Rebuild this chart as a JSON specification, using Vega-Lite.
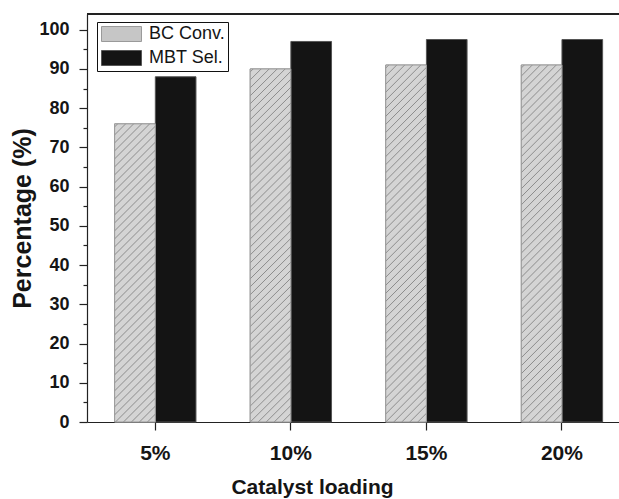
{
  "$schema": "https://vega.github.io/schema/vega-lite/v6.json",
  "width": 532,
  "height": 408,
  "autosize": {"type": "none"},
  "padding": {"left": 87, "top": 14, "right": 0, "bottom": 77},
  "background": "white",
  "config": {
    "view": {"stroke": null},
    "font": "Liberation Sans",
    "axis": {
      "domainColor": "#222222",
      "tickColor": "#222222",
      "labelColor": "#151515",
      "titleColor": "#151515",
      "labelFont": "Liberation Sans",
      "titleFont": "Liberation Sans",
      "grid": false,
      "domainWidth": 1.2,
      "tickWidth": 1.2
    }
  },
  "data": {
    "values": [
      {"loading": "5%", "series": "BC Conv.", "value": 76},
      {"loading": "5%", "series": "MBT Sel.", "value": 88},
      {"loading": "10%", "series": "BC Conv.", "value": 90},
      {"loading": "10%", "series": "MBT Sel.", "value": 97},
      {"loading": "15%", "series": "BC Conv.", "value": 91},
      {"loading": "15%", "series": "MBT Sel.", "value": 97.5},
      {"loading": "20%", "series": "BC Conv.", "value": 91},
      {"loading": "20%", "series": "MBT Sel.", "value": 97.5}
    ]
  },
  "layer": [
    {
      "mark": {"type": "bar", "strokeWidth": 1},
      "encoding": {
        "x": {
          "field": "loading",
          "type": "nominal",
          "sort": ["5%", "10%", "15%", "20%"],
          "title": "Catalyst loading",
          "scale": {"paddingInner": 0.4, "paddingOuter": 0.1624, "align": 0.628},
          "axis": {
            "labelAngle": 0,
            "labelFontSize": 21,
            "labelFontWeight": "bold",
            "titleFontSize": 21,
            "titleFontWeight": "bold",
            "titleX": 225,
            "tickSize": 8,
            "labelPadding": 12,
            "titlePadding": 13
          }
        },
        "xOffset": {
          "field": "series",
          "type": "nominal",
          "sort": ["BC Conv.", "MBT Sel."],
          "scale": {"paddingInner": 0, "paddingOuter": 0}
        },
        "y": {
          "field": "value",
          "type": "quantitative",
          "scale": {"domain": [0, 104], "nice": false, "zero": true},
          "axis": {
            "title": "Percentage (%)",
            "values": [0, 10, 20, 30, 40, 50, 60, 70, 80, 90, 100],
            "labelFontSize": 18,
            "labelFontWeight": "bold",
            "titleFontSize": 25,
            "titleFontWeight": "bold",
            "tickSize": 8,
            "labelPadding": 10,
            "titlePadding": 3
          }
        },
        "fill": {
          "field": "series",
          "type": "nominal",
          "scale": {"domain": ["BC Conv.", "MBT Sel."], "range": ["#c6c6c6", "#141414"]},
          "legend": {
            "title": null,
            "orient": "none",
            "legendX": 10,
            "legendY": 8,
            "strokeColor": "#111111",
            "fillColor": "white",
            "padding": 3,
            "symbolType": "M-1,-1H4.333V1H-1Z",
            "symbolSize": 225,
            "symbolStrokeWidth": 1,
            "labelFontSize": 18,
            "labelFont": "Liberation Sans",
            "labelColor": "#151515",
            "labelOffset": 31,
            "rowPadding": 4
          }
        },
        "stroke": {
          "field": "series",
          "type": "nominal",
          "scale": {"domain": ["BC Conv.", "MBT Sel."], "range": ["#9a9a9a", "#555555"]},
          "legend": null
        }
      }
    },
    {
      "transform": [{"filter": "datum.series === 'BC Conv.' && datum.loading === '5%'"}],
      "mark": {
        "type": "bar",
        "stroke": "#9a9a9a",
        "strokeWidth": 1,
        "fill": {
          "gradient": "linear", "x1": 0, "y1": 0, "x2": 0.1796, "y2": 1.3169,
          "stops": [
            {"offset": 0.005, "color": "#d4d4d4"}, {"offset": 0.0075, "color": "#8c8c8c"}, {"offset": 0.01, "color": "#d4d4d4"},
            {"offset": 0.025, "color": "#d4d4d4"}, {"offset": 0.0275, "color": "#8c8c8c"}, {"offset": 0.03, "color": "#d4d4d4"},
            {"offset": 0.045, "color": "#d4d4d4"}, {"offset": 0.0475, "color": "#8c8c8c"}, {"offset": 0.05, "color": "#d4d4d4"},
            {"offset": 0.065, "color": "#d4d4d4"}, {"offset": 0.0675, "color": "#8c8c8c"}, {"offset": 0.07, "color": "#d4d4d4"},
            {"offset": 0.085, "color": "#d4d4d4"}, {"offset": 0.0875, "color": "#8c8c8c"}, {"offset": 0.09, "color": "#d4d4d4"},
            {"offset": 0.105, "color": "#d4d4d4"}, {"offset": 0.1075, "color": "#8c8c8c"}, {"offset": 0.11, "color": "#d4d4d4"},
            {"offset": 0.125, "color": "#d4d4d4"}, {"offset": 0.1275, "color": "#8c8c8c"}, {"offset": 0.13, "color": "#d4d4d4"},
            {"offset": 0.145, "color": "#d4d4d4"}, {"offset": 0.1475, "color": "#8c8c8c"}, {"offset": 0.15, "color": "#d4d4d4"},
            {"offset": 0.165, "color": "#d4d4d4"}, {"offset": 0.1675, "color": "#8c8c8c"}, {"offset": 0.17, "color": "#d4d4d4"},
            {"offset": 0.185, "color": "#d4d4d4"}, {"offset": 0.1875, "color": "#8c8c8c"}, {"offset": 0.19, "color": "#d4d4d4"},
            {"offset": 0.205, "color": "#d4d4d4"}, {"offset": 0.2075, "color": "#8c8c8c"}, {"offset": 0.21, "color": "#d4d4d4"},
            {"offset": 0.225, "color": "#d4d4d4"}, {"offset": 0.2275, "color": "#8c8c8c"}, {"offset": 0.23, "color": "#d4d4d4"},
            {"offset": 0.245, "color": "#d4d4d4"}, {"offset": 0.2475, "color": "#8c8c8c"}, {"offset": 0.25, "color": "#d4d4d4"},
            {"offset": 0.265, "color": "#d4d4d4"}, {"offset": 0.2675, "color": "#8c8c8c"}, {"offset": 0.27, "color": "#d4d4d4"},
            {"offset": 0.285, "color": "#d4d4d4"}, {"offset": 0.2875, "color": "#8c8c8c"}, {"offset": 0.29, "color": "#d4d4d4"},
            {"offset": 0.305, "color": "#d4d4d4"}, {"offset": 0.3075, "color": "#8c8c8c"}, {"offset": 0.31, "color": "#d4d4d4"},
            {"offset": 0.325, "color": "#d4d4d4"}, {"offset": 0.3275, "color": "#8c8c8c"}, {"offset": 0.33, "color": "#d4d4d4"},
            {"offset": 0.345, "color": "#d4d4d4"}, {"offset": 0.3475, "color": "#8c8c8c"}, {"offset": 0.35, "color": "#d4d4d4"},
            {"offset": 0.365, "color": "#d4d4d4"}, {"offset": 0.3675, "color": "#8c8c8c"}, {"offset": 0.37, "color": "#d4d4d4"},
            {"offset": 0.385, "color": "#d4d4d4"}, {"offset": 0.3875, "color": "#8c8c8c"}, {"offset": 0.39, "color": "#d4d4d4"},
            {"offset": 0.405, "color": "#d4d4d4"}, {"offset": 0.4075, "color": "#8c8c8c"}, {"offset": 0.41, "color": "#d4d4d4"},
            {"offset": 0.425, "color": "#d4d4d4"}, {"offset": 0.4275, "color": "#8c8c8c"}, {"offset": 0.43, "color": "#d4d4d4"},
            {"offset": 0.445, "color": "#d4d4d4"}, {"offset": 0.4475, "color": "#8c8c8c"}, {"offset": 0.45, "color": "#d4d4d4"},
            {"offset": 0.465, "color": "#d4d4d4"}, {"offset": 0.4675, "color": "#8c8c8c"}, {"offset": 0.47, "color": "#d4d4d4"},
            {"offset": 0.485, "color": "#d4d4d4"}, {"offset": 0.4875, "color": "#8c8c8c"}, {"offset": 0.49, "color": "#d4d4d4"},
            {"offset": 0.505, "color": "#d4d4d4"}, {"offset": 0.5075, "color": "#8c8c8c"}, {"offset": 0.51, "color": "#d4d4d4"},
            {"offset": 0.525, "color": "#d4d4d4"}, {"offset": 0.5275, "color": "#8c8c8c"}, {"offset": 0.53, "color": "#d4d4d4"},
            {"offset": 0.545, "color": "#d4d4d4"}, {"offset": 0.5475, "color": "#8c8c8c"}, {"offset": 0.55, "color": "#d4d4d4"},
            {"offset": 0.565, "color": "#d4d4d4"}, {"offset": 0.5675, "color": "#8c8c8c"}, {"offset": 0.57, "color": "#d4d4d4"},
            {"offset": 0.585, "color": "#d4d4d4"}, {"offset": 0.5875, "color": "#8c8c8c"}, {"offset": 0.59, "color": "#d4d4d4"},
            {"offset": 0.605, "color": "#d4d4d4"}, {"offset": 0.6075, "color": "#8c8c8c"}, {"offset": 0.61, "color": "#d4d4d4"},
            {"offset": 0.625, "color": "#d4d4d4"}, {"offset": 0.6275, "color": "#8c8c8c"}, {"offset": 0.63, "color": "#d4d4d4"},
            {"offset": 0.645, "color": "#d4d4d4"}, {"offset": 0.6475, "color": "#8c8c8c"}, {"offset": 0.65, "color": "#d4d4d4"},
            {"offset": 0.665, "color": "#d4d4d4"}, {"offset": 0.6675, "color": "#8c8c8c"}, {"offset": 0.67, "color": "#d4d4d4"},
            {"offset": 0.685, "color": "#d4d4d4"}, {"offset": 0.6875, "color": "#8c8c8c"}, {"offset": 0.69, "color": "#d4d4d4"},
            {"offset": 0.705, "color": "#d4d4d4"}, {"offset": 0.7075, "color": "#8c8c8c"}, {"offset": 0.71, "color": "#d4d4d4"},
            {"offset": 0.725, "color": "#d4d4d4"}, {"offset": 0.7275, "color": "#8c8c8c"}, {"offset": 0.73, "color": "#d4d4d4"},
            {"offset": 0.745, "color": "#d4d4d4"}, {"offset": 0.7475, "color": "#8c8c8c"}, {"offset": 0.75, "color": "#d4d4d4"},
            {"offset": 0.765, "color": "#d4d4d4"}, {"offset": 0.7675, "color": "#8c8c8c"}, {"offset": 0.77, "color": "#d4d4d4"},
            {"offset": 0.785, "color": "#d4d4d4"}, {"offset": 0.7875, "color": "#8c8c8c"}, {"offset": 0.79, "color": "#d4d4d4"},
            {"offset": 0.805, "color": "#d4d4d4"}, {"offset": 0.8075, "color": "#8c8c8c"}, {"offset": 0.81, "color": "#d4d4d4"},
            {"offset": 0.825, "color": "#d4d4d4"}, {"offset": 0.8275, "color": "#8c8c8c"}, {"offset": 0.83, "color": "#d4d4d4"},
            {"offset": 0.845, "color": "#d4d4d4"}, {"offset": 0.8475, "color": "#8c8c8c"}, {"offset": 0.85, "color": "#d4d4d4"}
          ]
        }
      },
      "encoding": {
        "x": {"field": "loading", "type": "nominal", "sort": ["5%", "10%", "15%", "20%"], "title": "Catalyst loading"},
        "xOffset": {"field": "series", "type": "nominal", "sort": ["BC Conv.", "MBT Sel."]},
        "y": {"field": "value", "type": "quantitative", "scale": {"domain": [0, 104], "nice": false}, "axis": null}
      }
    },
    {
      "transform": [{"filter": "datum.series === 'BC Conv.' && datum.loading !== '5%'"}],
      "mark": {
        "type": "bar",
        "stroke": "#9a9a9a",
        "strokeWidth": 1,
        "fill": {
          "gradient": "linear", "x1": 0, "y1": 0, "x2": 0.1274, "y2": 1.1122,
          "stops": [
            {"offset": 0.005, "color": "#d4d4d4"}, {"offset": 0.0075, "color": "#8c8c8c"}, {"offset": 0.01, "color": "#d4d4d4"},
            {"offset": 0.025, "color": "#d4d4d4"}, {"offset": 0.0275, "color": "#8c8c8c"}, {"offset": 0.03, "color": "#d4d4d4"},
            {"offset": 0.045, "color": "#d4d4d4"}, {"offset": 0.0475, "color": "#8c8c8c"}, {"offset": 0.05, "color": "#d4d4d4"},
            {"offset": 0.065, "color": "#d4d4d4"}, {"offset": 0.0675, "color": "#8c8c8c"}, {"offset": 0.07, "color": "#d4d4d4"},
            {"offset": 0.085, "color": "#d4d4d4"}, {"offset": 0.0875, "color": "#8c8c8c"}, {"offset": 0.09, "color": "#d4d4d4"},
            {"offset": 0.105, "color": "#d4d4d4"}, {"offset": 0.1075, "color": "#8c8c8c"}, {"offset": 0.11, "color": "#d4d4d4"},
            {"offset": 0.125, "color": "#d4d4d4"}, {"offset": 0.1275, "color": "#8c8c8c"}, {"offset": 0.13, "color": "#d4d4d4"},
            {"offset": 0.145, "color": "#d4d4d4"}, {"offset": 0.1475, "color": "#8c8c8c"}, {"offset": 0.15, "color": "#d4d4d4"},
            {"offset": 0.165, "color": "#d4d4d4"}, {"offset": 0.1675, "color": "#8c8c8c"}, {"offset": 0.17, "color": "#d4d4d4"},
            {"offset": 0.185, "color": "#d4d4d4"}, {"offset": 0.1875, "color": "#8c8c8c"}, {"offset": 0.19, "color": "#d4d4d4"},
            {"offset": 0.205, "color": "#d4d4d4"}, {"offset": 0.2075, "color": "#8c8c8c"}, {"offset": 0.21, "color": "#d4d4d4"},
            {"offset": 0.225, "color": "#d4d4d4"}, {"offset": 0.2275, "color": "#8c8c8c"}, {"offset": 0.23, "color": "#d4d4d4"},
            {"offset": 0.245, "color": "#d4d4d4"}, {"offset": 0.2475, "color": "#8c8c8c"}, {"offset": 0.25, "color": "#d4d4d4"},
            {"offset": 0.265, "color": "#d4d4d4"}, {"offset": 0.2675, "color": "#8c8c8c"}, {"offset": 0.27, "color": "#d4d4d4"},
            {"offset": 0.285, "color": "#d4d4d4"}, {"offset": 0.2875, "color": "#8c8c8c"}, {"offset": 0.29, "color": "#d4d4d4"},
            {"offset": 0.305, "color": "#d4d4d4"}, {"offset": 0.3075, "color": "#8c8c8c"}, {"offset": 0.31, "color": "#d4d4d4"},
            {"offset": 0.325, "color": "#d4d4d4"}, {"offset": 0.3275, "color": "#8c8c8c"}, {"offset": 0.33, "color": "#d4d4d4"},
            {"offset": 0.345, "color": "#d4d4d4"}, {"offset": 0.3475, "color": "#8c8c8c"}, {"offset": 0.35, "color": "#d4d4d4"},
            {"offset": 0.365, "color": "#d4d4d4"}, {"offset": 0.3675, "color": "#8c8c8c"}, {"offset": 0.37, "color": "#d4d4d4"},
            {"offset": 0.385, "color": "#d4d4d4"}, {"offset": 0.3875, "color": "#8c8c8c"}, {"offset": 0.39, "color": "#d4d4d4"},
            {"offset": 0.405, "color": "#d4d4d4"}, {"offset": 0.4075, "color": "#8c8c8c"}, {"offset": 0.41, "color": "#d4d4d4"},
            {"offset": 0.425, "color": "#d4d4d4"}, {"offset": 0.4275, "color": "#8c8c8c"}, {"offset": 0.43, "color": "#d4d4d4"},
            {"offset": 0.445, "color": "#d4d4d4"}, {"offset": 0.4475, "color": "#8c8c8c"}, {"offset": 0.45, "color": "#d4d4d4"},
            {"offset": 0.465, "color": "#d4d4d4"}, {"offset": 0.4675, "color": "#8c8c8c"}, {"offset": 0.47, "color": "#d4d4d4"},
            {"offset": 0.485, "color": "#d4d4d4"}, {"offset": 0.4875, "color": "#8c8c8c"}, {"offset": 0.49, "color": "#d4d4d4"},
            {"offset": 0.505, "color": "#d4d4d4"}, {"offset": 0.5075, "color": "#8c8c8c"}, {"offset": 0.51, "color": "#d4d4d4"},
            {"offset": 0.525, "color": "#d4d4d4"}, {"offset": 0.5275, "color": "#8c8c8c"}, {"offset": 0.53, "color": "#d4d4d4"},
            {"offset": 0.545, "color": "#d4d4d4"}, {"offset": 0.5475, "color": "#8c8c8c"}, {"offset": 0.55, "color": "#d4d4d4"},
            {"offset": 0.565, "color": "#d4d4d4"}, {"offset": 0.5675, "color": "#8c8c8c"}, {"offset": 0.57, "color": "#d4d4d4"},
            {"offset": 0.585, "color": "#d4d4d4"}, {"offset": 0.5875, "color": "#8c8c8c"}, {"offset": 0.59, "color": "#d4d4d4"},
            {"offset": 0.605, "color": "#d4d4d4"}, {"offset": 0.6075, "color": "#8c8c8c"}, {"offset": 0.61, "color": "#d4d4d4"},
            {"offset": 0.625, "color": "#d4d4d4"}, {"offset": 0.6275, "color": "#8c8c8c"}, {"offset": 0.63, "color": "#d4d4d4"},
            {"offset": 0.645, "color": "#d4d4d4"}, {"offset": 0.6475, "color": "#8c8c8c"}, {"offset": 0.65, "color": "#d4d4d4"},
            {"offset": 0.665, "color": "#d4d4d4"}, {"offset": 0.6675, "color": "#8c8c8c"}, {"offset": 0.67, "color": "#d4d4d4"},
            {"offset": 0.685, "color": "#d4d4d4"}, {"offset": 0.6875, "color": "#8c8c8c"}, {"offset": 0.69, "color": "#d4d4d4"},
            {"offset": 0.705, "color": "#d4d4d4"}, {"offset": 0.7075, "color": "#8c8c8c"}, {"offset": 0.71, "color": "#d4d4d4"},
            {"offset": 0.725, "color": "#d4d4d4"}, {"offset": 0.7275, "color": "#8c8c8c"}, {"offset": 0.73, "color": "#d4d4d4"},
            {"offset": 0.745, "color": "#d4d4d4"}, {"offset": 0.7475, "color": "#8c8c8c"}, {"offset": 0.75, "color": "#d4d4d4"},
            {"offset": 0.765, "color": "#d4d4d4"}, {"offset": 0.7675, "color": "#8c8c8c"}, {"offset": 0.77, "color": "#d4d4d4"},
            {"offset": 0.785, "color": "#d4d4d4"}, {"offset": 0.7875, "color": "#8c8c8c"}, {"offset": 0.79, "color": "#d4d4d4"},
            {"offset": 0.805, "color": "#d4d4d4"}, {"offset": 0.8075, "color": "#8c8c8c"}, {"offset": 0.81, "color": "#d4d4d4"},
            {"offset": 0.825, "color": "#d4d4d4"}, {"offset": 0.8275, "color": "#8c8c8c"}, {"offset": 0.83, "color": "#d4d4d4"},
            {"offset": 0.845, "color": "#d4d4d4"}, {"offset": 0.8475, "color": "#8c8c8c"}, {"offset": 0.85, "color": "#d4d4d4"},
            {"offset": 0.865, "color": "#d4d4d4"}, {"offset": 0.8675, "color": "#8c8c8c"}, {"offset": 0.87, "color": "#d4d4d4"},
            {"offset": 0.885, "color": "#d4d4d4"}, {"offset": 0.8875, "color": "#8c8c8c"}, {"offset": 0.89, "color": "#d4d4d4"},
            {"offset": 0.905, "color": "#d4d4d4"}, {"offset": 0.9075, "color": "#8c8c8c"}, {"offset": 0.91, "color": "#d4d4d4"},
            {"offset": 0.925, "color": "#d4d4d4"}, {"offset": 0.9275, "color": "#8c8c8c"}, {"offset": 0.93, "color": "#d4d4d4"},
            {"offset": 0.945, "color": "#d4d4d4"}, {"offset": 0.9475, "color": "#8c8c8c"}, {"offset": 0.95, "color": "#d4d4d4"},
            {"offset": 0.965, "color": "#d4d4d4"}, {"offset": 0.9675, "color": "#8c8c8c"}, {"offset": 0.97, "color": "#d4d4d4"},
            {"offset": 0.985, "color": "#d4d4d4"}, {"offset": 0.9875, "color": "#8c8c8c"}, {"offset": 0.99, "color": "#d4d4d4"}
          ]
        }
      },
      "encoding": {
        "x": {"field": "loading", "type": "nominal", "sort": ["5%", "10%", "15%", "20%"], "title": "Catalyst loading"},
        "xOffset": {"field": "series", "type": "nominal", "sort": ["BC Conv.", "MBT Sel."]},
        "y": {"field": "value", "type": "quantitative", "scale": {"domain": [0, 104], "nice": false}, "axis": null}
      }
    },
    {
      "mark": {"type": "rule", "color": "#222222", "strokeWidth": 1.2},
      "encoding": {
        "y": {
          "datum": 104,
          "type": "quantitative",
          "scale": {"domain": [0, 104], "nice": false},
          "axis": {
            "orient": "left",
            "values": [5, 15, 25, 35, 45, 55, 65, 75, 85, 95],
            "labels": false,
            "domain": false,
            "tickSize": 4,
            "title": null
          }
        }
      }
    }
  ],
  "resolve": {"axis": {"y": "independent"}}
}
